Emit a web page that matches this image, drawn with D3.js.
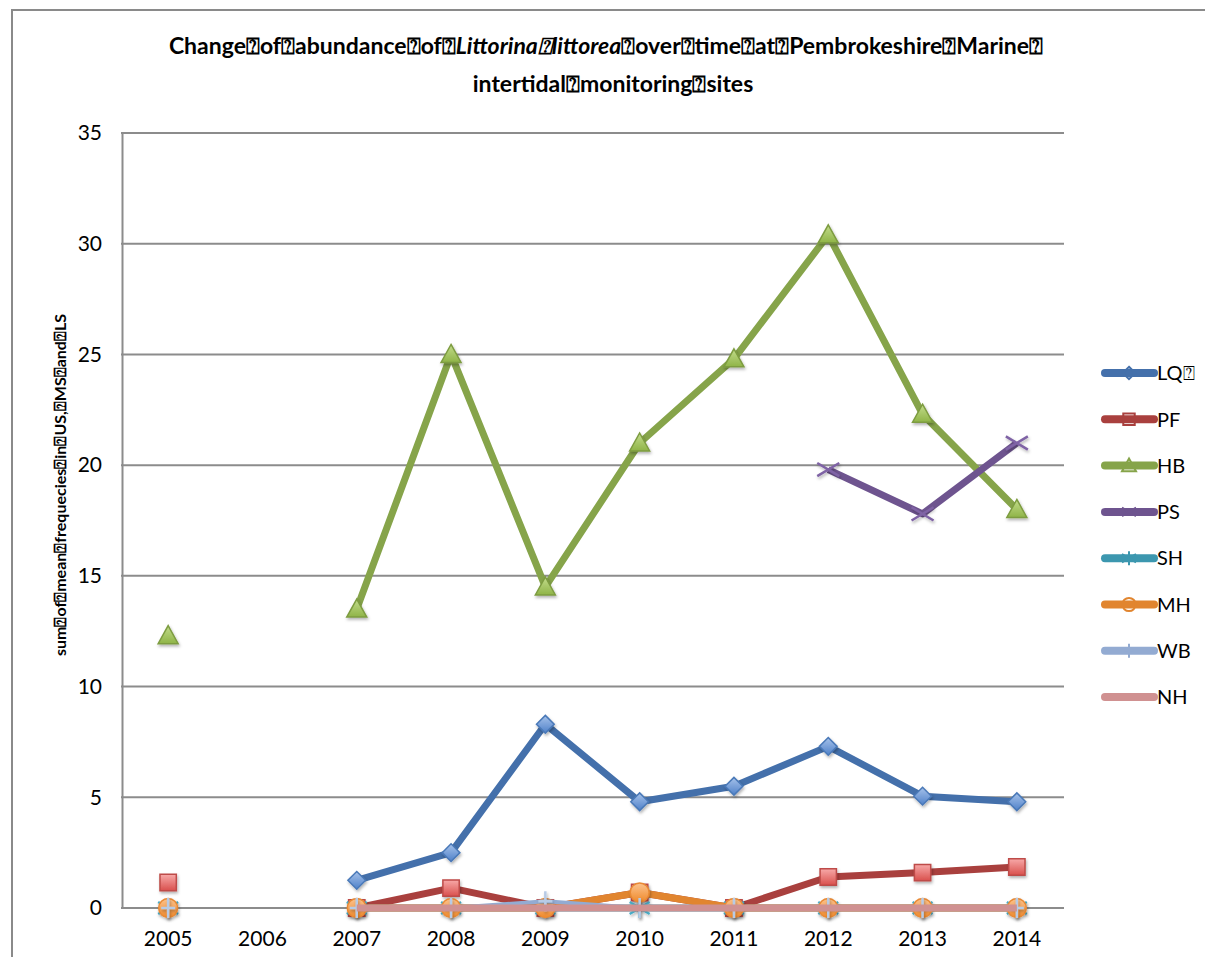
<!DOCTYPE html>
<html>
<head>
<meta charset="utf-8">
<script src="https://cdn.jsdelivr.net/npm/d3@7"></script>
<style>
  body { margin: 0; background: #fff; }
  text { font-family: Lato, "Liberation Sans", sans-serif; fill: #000; }
</style>
</head>
<body>
<svg id="mysvg" width="1205" height="957"></svg>
<script>
var Q = "\u2370"; // the box glyph that stands in for spaces in the original
var years = ["2005", "2006", "2007", "2008", "2009", "2010", "2011", "2012", "2013", "2014"];
var names = ["LQ" + Q, "PF", "HB", "PS", "SH", "MH", "WB", "NH"];
var lq = [null, null, 1.25, 2.5, 8.3, 4.8, 5.5, 7.3, 5.05, 4.8];
var pf = [1.15, null, 0, 0.9, 0, 0.7, 0, 1.4, 1.6, 1.85];
var hb = [12.3, null, 13.5, 25, 14.5, 21, 24.8, 30.4, 22.3, 18];
var ps = [null, null, null, null, null, null, null, 19.8, 17.8, 21];
var sh = [0, null, 0, 0, 0, 0, 0, 0, 0, 0];
var mh = [0, null, 0, 0, 0, 0.7, 0, 0, 0, 0];
var wb = [0, null, 0, 0, 0.3, 0, 0, 0, 0, 0];
var nh = [null, null, 0, 0, 0, 0, 0, 0, 0, 0];
var yTicks = [0, 5, 10, 15, 20, 25, 30, 35];

var allSeries = [lq, pf, hb, ps, sh, mh, wb, nh];
var lineColors = ["#4470ab", "#a9403e", "#86a44a", "#6e548f", "#3c97af", "#e1852f", "#93abd2", "#d09191"];
var markFill = [["#a6c2ea", "#4f81c9"], ["#f7a9a8", "#d9504d"], ["#c3dc8c", "#8fb447"], null, null, ["#fbc38e", "#f08a2c"], null, null];
var markStroke = ["#4a79b8", "#be4b48", "#7d9c40", "#7f63a5", "#4aacc6", "#e98a35", "#b7cbe6", null];
var shapes = ["diamond", "square", "triangle", "times", "asterisk", "circle", "plus", null];

var svg = d3.select("#mysvg");

// frame of the chart object
svg.append("path").attr("d", "M12,957 L12,10 L1205,10")
   .attr("fill", "none").attr("stroke", "#8a8a8a").attr("stroke-width", 2);

var x = d3.scaleBand().domain(years).range([121, 1064]);
var y = d3.scaleLinear().domain([0, 35]).range([908, 133]);

var defs = svg.append("defs");
var shadow = defs.append("filter").attr("id", "shadow")
                 .attr("x", "-50%").attr("y", "-50%").attr("width", "200%").attr("height", "200%");
shadow.append("feDropShadow").attr("dx", 1).attr("dy", 2).attr("stdDeviation", 1.5)
      .attr("flood-color", "#000").attr("flood-opacity", 0.3);

markFill.forEach(function(f, i){
	if (!f) return;
	var g = defs.append("linearGradient").attr("id", "grad" + i)
	            .attr("x1", 0).attr("y1", 0).attr("x2", 0).attr("y2", 1);
	g.append("stop").attr("offset", "0%").attr("stop-color", f[0]);
	g.append("stop").attr("offset", "100%").attr("stop-color", f[1]);
});

// gridlines
svg.append("g").selectAll("line").data(yTicks).enter().append("line")
   .attr("x1", 121).attr("x2", 1064)
   .attr("y1", function(d){ return y(d); }).attr("y2", function(d){ return y(d); })
   .attr("stroke", "#8c8c8c").attr("stroke-width", 2);

// left axis
var yAxis = svg.append("g").attr("transform", "translate(122,0)")
   .call(d3.axisLeft(y).tickValues(yTicks).tickSize(0).tickPadding(20));
yAxis.select(".domain").attr("stroke", "#8c8c8c").attr("stroke-width", 2);
yAxis.selectAll("text").attr("font-size", 21).attr("font-family", "Lato");

var xAxis = svg.append("g").attr("transform", "translate(0,908)")
   .call(d3.axisBottom(x).tickSize(0).tickPadding(23));
xAxis.select(".domain").remove();
xAxis.selectAll("text").attr("font-size", 21).attr("font-family", "Lato");

// title
var title = svg.append("text").attr("text-anchor", "middle")
   .attr("font-weight", "bold").attr("font-size", 23);
var t1 = title.append("tspan").attr("x", 606).attr("y", 54);
t1.append("tspan").text("Change" + Q + "of" + Q + "abundance" + Q + "of" + Q);
t1.append("tspan").attr("font-style", "italic").text("Littorina" + Q + "littorea");
t1.append("tspan").text(Q + "over" + Q + "time" + Q + "at" + Q + "Pembrokeshire" + Q + "Marine" + Q);
title.append("tspan").attr("x", 613).attr("y", 92)
     .text("intertidal" + Q + "monitoring" + Q + "sites");

svg.append("text").attr("transform", "translate(66,485) rotate(-90)")
   .attr("text-anchor", "middle").attr("font-weight", "bold").attr("font-size", 16)
   .text("sum" + Q + "of" + Q + "mean" + Q + "frequecies" + Q + "in" + Q + "US," + Q + "MS" + Q + "and" + Q + "LS");

function markerPath(shape, size){
	var s = size / 2;
	if (shape == "diamond") return d3.symbol(d3.symbolDiamond2, size * size * 0.5)();
	if (shape == "square") return d3.symbol(d3.symbolSquare2, size * size * 0.85)();
	if (shape == "triangle") return "M0," + (-s) + " L" + s + "," + (s * 0.8) + " L" + (-s) + "," + (s * 0.8) + " Z";
	if (shape == "circle") return d3.symbol(d3.symbolCircle, size * size * 0.7)();
	if (shape == "times") return "M" + (-s) + "," + (-s * 0.6) + " L" + s + "," + (s * 0.6) + " M" + (-s) + "," + (s * 0.6) + " L" + s + "," + (-s * 0.6);
	if (shape == "asterisk") return "M" + (-s) + "," + (-s * 0.6) + " L" + s + "," + (s * 0.6) + " M" + (-s) + "," + (s * 0.6) + " L" + s + "," + (-s * 0.6) + " M0," + (-s) + " L0," + s;
	if (shape == "plus") return "M" + (-s * 0.7) + ",0 L" + (s * 0.7) + ",0 M0," + (-s) + " L0," + s;
	return "";
}

var line = d3.line()
	.defined(function(d){ return d != null; })
	.x(function(d, i){ return x(years[i]) + x.bandwidth() / 2; })
	.y(function(d){ return y(d); });

var plot = svg.append("g");

function drawSeries(values, i){
	var g = plot.append("g");
	g.append("path").attr("d", line(values))
	 .attr("fill", "none").attr("stroke", lineColors[i]).attr("stroke-width", i == 6 ? 4 : 7)
	 .attr("stroke-linejoin", "round");
	if (!shapes[i]) return;
	var filled = markFill[i] != null;
	var pts = values.map(function(d, j){ return [d, j]; }).filter(function(p){ return p[0] != null; });
	g.selectAll(".mark").data(pts).enter().append("path")
	 .attr("transform", function(p){ return "translate(" + (x(years[p[1]]) + x.bandwidth() / 2) + "," + y(p[0]) + ")"; })
	 .attr("d", markerPath(shapes[i], i == 3 ? 22 : 20))
	 .attr("fill", filled ? "url(#grad" + i + ")" : "none")
	 .attr("stroke", markStroke[i]).attr("stroke-width", filled ? 1.5 : 2.5)
	 .attr("filter", "url(#shadow)");
}

allSeries.forEach(drawSeries);

// legend
var legend = svg.append("g").selectAll("g").data(names).enter().append("g")
	.attr("transform", function(d, i){ return "translate(1103," + (373 + i * 46.3) + ")"; });
legend.append("line").attr("x1", 2).attr("x2", 51)
	.attr("stroke", function(d, i){ return lineColors[i]; })
	.attr("stroke-width", 8).attr("stroke-linecap", "round");
legend.append("path")
	.attr("transform", "translate(26,0)")
	.attr("d", function(d, i){ return markerPath(shapes[i], 14); })
	.attr("fill", "none")
	.attr("stroke", function(d, i){ return lineColors[i]; }).attr("stroke-width", 2);
legend.append("text").attr("x", 54).attr("dy", "0.36em").attr("font-size", 20)
	.text(function(d){ return d; });
</script>
</body>
</html>
